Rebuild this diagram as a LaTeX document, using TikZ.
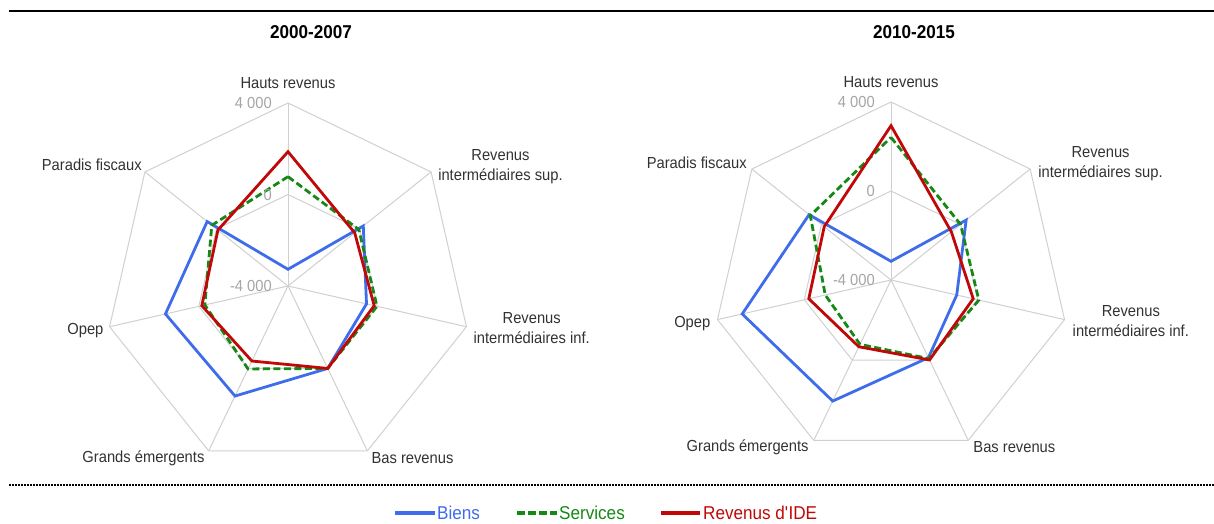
\documentclass[tikz,border=0pt]{standalone}
\usepackage{fontspec}
\setmainfont{Liberation Sans}[FakeStretch=0.92]
\definecolor{bleu}{RGB}{62,108,235}
\definecolor{vert}{RGB}{22,136,22}
\definecolor{rouge}{RGB}{192,8,8}
\definecolor{grisgrille}{RGB}{208,208,208}
\definecolor{grislabel}{RGB}{50,50,50}
\definecolor{grisgrad}{RGB}{165,165,165}
\begin{document}
\begin{tikzpicture}[x=1pt,y=1pt,
    grille/.style={draw=grisgrille, line width=1pt},
    biens/.style={draw=bleu, line width=2.8pt},
    services/.style={draw=vert, line width=2.8pt, dash pattern=on 7pt off 3.5pt},
    ide/.style={draw=rouge, line width=2.8pt},
    axe/.style={font=\fontsize{16}{20}\selectfont, text=grislabel, inner sep=0pt, align=center},
    graduation/.style={font=\fontsize{16}{20}\selectfont, text=grisgrad, inner sep=0pt, anchor=east},
    titre/.style={font=\fontsize{18.6}{22}\selectfont\bfseries, inner sep=0pt},
    legende/.style={font=\fontsize{18.6}{22}\selectfont, inner sep=0pt, anchor=west}]
    \useasboundingbox (0,0) rectangle (1214,523);
    % lignes de cadre
    \draw[line width=2.5pt] (9,512) -- (1214,512);
    \draw[line width=1.5pt, dash pattern=on 2pt off 1pt] (9,38) -- (1214,38);
    % titres
    \node[titre] (titreA) at (311,491) {2000-2007};
    \node[titre] (titreB) at (914,491) {2010-2015};
    % 2000-2007
    \begin{scope}[shift={(288,237)}]
        \coordinate (ac) at (0,0);
        \foreach \i in {0,...,6} {
            \coordinate (ag\i) at ({90-\i*360/7}:183);
            \coordinate (agm\i) at ({90-\i*360/7}:91.5);
            \draw[grille] (ac) -- (ag\i);
        }
        \draw[grille] (ag0) \foreach \i in {1,...,6} {-- (ag\i)} -- cycle;
        \draw[grille] (agm0) \foreach \i in {1,...,6} {-- (agm\i)} -- cycle;
        \foreach \v [count=\i from 0] in {-3270,210,-480,0,1340,1495,520}
            \coordinate (ab\i) at ({90-\i*360/7}:{183*(\v/8000+0.5)});
        \foreach \v [count=\i from 0] in {780,-40,-10,0,25,-270,260}
            \coordinate (as\i) at ({90-\i*360/7}:{183*(\v/8000+0.5)});
        \foreach \v [count=\i from 0] in {1870,-270,-135,0,-360,-135,-80}
            \coordinate (ar\i) at ({90-\i*360/7}:{183*(\v/8000+0.5)});
        \draw[biens] (ab0) \foreach \i in {1,...,6} {-- (ab\i)} -- cycle;
        \draw[services] (as0) \foreach \i in {1,...,6} {-- (as\i)} -- cycle;
        \draw[ide] (ar0) \foreach \i in {1,...,6} {-- (ar\i)} -- cycle;
        \node[graduation] (aT0) at ([xshift=-16pt]ac) {-4 000};
        \node[graduation] (aT1) at ([xshift=-16pt]agm0) {0};
        \node[graduation] (aT2) at ([xshift=-16pt]ag0) {4 000};
        \node[axe, anchor=base, yshift=14pt] (aL0) at (ag0) {Hauts revenus};
        \node[axe, anchor=west, xshift=7pt, yshift=5pt] (aL1) at (ag1) {Revenus\\intermédiaires sup.};
        \node[axe, anchor=west, xshift=7pt, yshift=-1pt] (aL2) at (ag2) {Revenus\\intermédiaires inf.};
        \node[axe, anchor=west, xshift=4pt, yshift=-7pt] (aL3) at (ag3) {Bas revenus};
        \node[axe, anchor=east, xshift=-4pt, yshift=-7pt] (aL4) at (ag4) {Grands émergents};
        \node[axe, anchor=east, xshift=-6pt, yshift=-4pt] (aL5) at (ag5) {Opep};
        \node[axe, anchor=east, xshift=-3pt, yshift=7pt] (aL6) at (ag6) {Paradis fiscaux};
    \end{scope}
    % 2010-2015
    \begin{scope}[shift={(891,243)}]
        \coordinate (bc) at (0,0);
        \foreach \i in {0,...,6} {
            \coordinate (bg\i) at ({90-\i*360/7}:178);
            \coordinate (bgm\i) at ({90-\i*360/7}:89);
            \draw[grille] (bc) -- (bg\i);
        }
        \draw[grille] (bg0) \foreach \i in {1,...,6} {-- (bg\i)} -- cycle;
        \draw[grille] (bgm0) \foreach \i in {1,...,6} {-- (bgm\i)} -- cycle;
        \foreach \v [count=\i from 0] in {-3160,320,-970,-125,2040,2860,710}
            \coordinate (bb\i) at ({90-\i*360/7}:{178*(\v/8000+0.5)});
        \foreach \v [count=\i from 0] in {2410,0,50,-80,-790,-970,640}
            \coordinate (bs\i) at ({90-\i*360/7}:{178*(\v/8000+0.5)});
        \foreach \v [count=\i from 0] in {2935,-530,-210,-10,-670,-210,-160}
            \coordinate (br\i) at ({90-\i*360/7}:{178*(\v/8000+0.5)});
        \draw[biens] (bb0) \foreach \i in {1,...,6} {-- (bb\i)} -- cycle;
        \draw[services] (bs0) \foreach \i in {1,...,6} {-- (bs\i)} -- cycle;
        \draw[ide] (br0) \foreach \i in {1,...,6} {-- (br\i)} -- cycle;
        \node[graduation] (bT0) at ([xshift=-16pt]bc) {-4 000};
        \node[graduation] (bT1) at ([xshift=-16pt]bgm0) {0};
        \node[graduation] (bT2) at ([xshift=-16pt]bg0) {4 000};
        \node[axe, anchor=base, yshift=14pt] (bL0) at (bg0) {Hauts revenus};
        \node[axe, anchor=west, xshift=8pt, yshift=5pt] (bL1) at (bg1) {Revenus\\intermédiaires sup.};
        \node[axe, anchor=west, xshift=8pt, yshift=-1pt] (bL2) at (bg2) {Revenus\\intermédiaires inf.};
        \node[axe, anchor=west, xshift=5pt, yshift=-7pt] (bL3) at (bg3) {Bas revenus};
        \node[axe, anchor=east, xshift=-5pt, yshift=-7pt] (bL4) at (bg4) {Grands émergents};
        \node[axe, anchor=east, xshift=-7pt, yshift=-4pt] (bL5) at (bg5) {Opep};
        \node[axe, anchor=east, xshift=-5pt, yshift=6pt] (bL6) at (bg6) {Paradis fiscaux};
    \end{scope}
    % legende
    \coordinate (lb1) at (395,10);
    \coordinate (lb2) at (435,10);
    \coordinate (ls1) at (517,10);
    \coordinate (ls2) at (557,10);
    \coordinate (lr1) at (661,10);
    \coordinate (lr2) at (700,10);
    \draw[biens, line width=3.2pt] (lb1) -- (lb2);
    \draw[services, line width=3.2pt, dash pattern=on 7.5pt off 3.5pt] (ls1) -- (ls2);
    \draw[ide, line width=3.2pt] (lr1) -- (lr2);
    \node[legende, text=bleu, xshift=2pt] (legB) at (lb2) {Biens};
    \node[legende, text=vert, xshift=2pt] (legS) at (ls2) {Services};
    \node[legende, text=rouge, xshift=3pt] (legR) at (lr2) {Revenus d\textquotesingle IDE};
\end{tikzpicture}
\end{document}
